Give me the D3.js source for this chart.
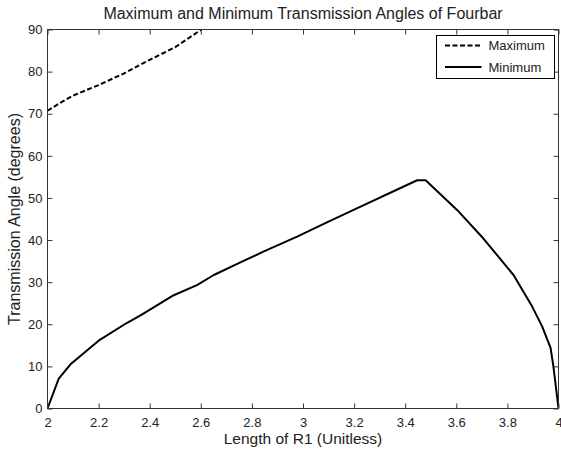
<!DOCTYPE html>
<html>
<head>
<meta charset="utf-8">
<script src="https://cdn.jsdelivr.net/npm/d3@7"></script>
<style>
  body { margin: 0; background: #fff; }
  svg text { font-family: Arial, "Liberation Sans", sans-serif; fill: #222; }
</style>
</head>
<body>
<div id="chart"></div>
<script>
// values
const r1Max = [2, 2.05, 2.1, 2.2, 2.3, 2.4, 2.5, 2.6];
const maxAngle = [70.7, 72.6, 74.3, 76.8, 79.6, 82.8, 85.8, 89.9];

const r1Min = [2, 2.044, 2.09, 2.2, 2.31, 2.364, 2.494, 2.585, 2.651, 2.755, 2.847, 2.977,
  3.108, 3.238, 3.369, 3.447, 3.48, 3.604, 3.707, 3.824, 3.897, 3.936, 3.969, 3.98, 4];
const minAngle = [0, 7.1, 10.5, 16.1, 20.3, 22.1, 26.9, 29.3, 31.7, 34.7, 37.3, 40.8,
  44.6, 48.3, 52.0, 54.2, 54.2, 47.1, 40.3, 31.7, 24.2, 19.5, 14.4, 10, 0];

const xTicks = [2, 2.2, 2.4, 2.6, 2.8, 3, 3.2, 3.4, 3.6, 3.8, 4];
const yTicks = [0, 10, 20, 30, 40, 50, 60, 70, 80, 90];
const legendLabels = ["Maximum", "Minimum"];

const width = 561, height = 452;
const pLeft = 47.5, pRight = 558.5, pTop = 29.5, pBottom = 408.5;

const svg = d3.select("#chart").append("svg").attr("width", width).attr("height", height);

const x = d3.scaleLinear().domain([2, 4]).range([pLeft, pRight]);
const y = d3.scaleLinear().domain([0, 90]).range([pBottom, pTop]);

// clip so the dashed line stops at the top of the box
svg.append("clipPath").attr("id", "plotClip")
  .append("rect").attr("x", pLeft).attr("y", pTop).attr("width", pRight - pLeft).attr("height", pBottom - pTop);

const line = d3.line().x(d => x(d[0])).y(d => y(d[1]));

const plot = svg.append("g").attr("clip-path", "url(#plotClip)");
plot.append("path")
  .datum(r1Max.map((v, i) => [v, maxAngle[i]]))
  .attr("d", line).attr("fill", "none").attr("stroke", "#000")
  .attr("stroke-width", 2).attr("stroke-dasharray", "5,2.5");
plot.append("path")
  .datum(r1Min.map((v, i) => [v, minAngle[i]]))
  .attr("d", line).attr("fill", "none").attr("stroke", "#000")
  .attr("stroke-width", 2).attr("stroke-linejoin", "round");

// axes, ticks inward on all four sides (matlab box)
const tick = 5;
const styleAxis = g => {
  g.select(".domain").remove();
  g.selectAll(".tick line").attr("stroke", "#333");
  g.selectAll(".tick text").attr("font-size", 13).style("fill", "#222");
};
svg.append("g").attr("transform", `translate(0,${pBottom})`)
  .call(d3.axisBottom(x).tickValues(xTicks).tickFormat(d3.format("")).tickSize(-tick).tickPadding(9))
  .call(styleAxis);
svg.append("g").attr("transform", `translate(0,${pTop})`)
  .call(d3.axisTop(x).tickValues(xTicks).tickSize(-tick).tickFormat(""))
  .call(styleAxis);
svg.append("g").attr("transform", `translate(${pLeft},0)`)
  .call(d3.axisLeft(y).tickValues(yTicks).tickSize(-tick).tickPadding(5))
  .call(styleAxis);
svg.append("g").attr("transform", `translate(${pRight},0)`)
  .call(d3.axisRight(y).tickValues(yTicks).tickSize(-tick).tickFormat(""))
  .call(styleAxis);

svg.append("rect").attr("x", pLeft).attr("y", pTop)
  .attr("width", pRight - pLeft).attr("height", pBottom - pTop)
  .attr("fill", "none").attr("stroke", "#333");

// title and labels
svg.append("text").attr("x", (pLeft + pRight) / 2).attr("y", 19)
  .attr("text-anchor", "middle").attr("font-size", 16)
  .text("Maximum and Minimum Transmission Angles of Fourbar");
svg.append("text").attr("x", (pLeft + pRight) / 2).attr("y", 444)
  .attr("text-anchor", "middle").attr("font-size", 15.5)
  .text("Length of R1 (Unitless)");
svg.append("text")
  .attr("transform", `translate(20,${(pTop + pBottom) / 2}) rotate(-90)`)
  .attr("text-anchor", "middle").attr("font-size", 16)
  .text("Transmission Angle (degrees)");

// legend
const legend = svg.append("g").attr("transform", "translate(436.5,35.5)");
legend.append("rect").attr("width", 118).attr("height", 43)
  .attr("fill", "#fff").attr("stroke", "#000");
legendLabels.forEach((label, i) => {
  const ly = 10 + i * 21.5;
  legend.append("line").attr("x1", 8.5).attr("x2", 45).attr("y1", ly).attr("y2", ly)
    .attr("stroke", "#000").attr("stroke-width", 2)
    .attr("stroke-dasharray", i === 0 ? "5,2.5" : null);
  legend.append("text").attr("x", 52).attr("y", ly + 4.5).attr("font-size", 13).text(label);
});
</script>
</body>
</html>
